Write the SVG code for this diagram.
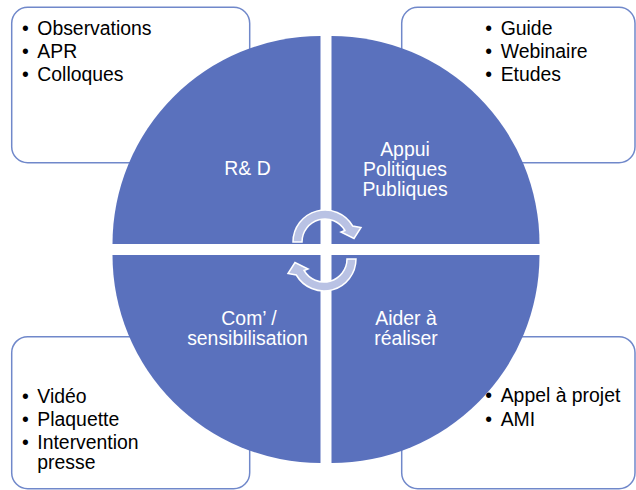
<svg xmlns="http://www.w3.org/2000/svg" width="636" height="490" viewBox="0 0 636 490">
<defs>
<style>
.box{fill:#ffffff;stroke:#7088CA;stroke-width:1.5}
.q{fill:#5A71BD}
.t{font-family:"Liberation Sans",Arial,sans-serif;font-size:19.4px;fill:#000000}
.w{font-family:"Liberation Sans",Arial,sans-serif;font-size:19.4px;fill:#ffffff;text-anchor:middle}
.arr{fill:#B9C2E4;stroke:#ffffff;stroke-width:1.5;stroke-linejoin:miter}
</style>
<path id="arrow" class="arr" d="M293 242 A32 32 0 0 1 352.7 226 L361 227.5 L354 238.5 L341 232 L344.9 230.5 A23 23 0 0 0 302 242 Z"/>
</defs>
<rect width="636" height="490" fill="#ffffff"/>
<g id="box-tl"><rect class="box" x="11.7" y="7.3" width="238" height="155.4" rx="16"/>
<text class="t" x="21.9" y="35">•</text><text class="t" x="37.3" y="35">Observations</text>
<text class="t" x="21.9" y="58">•</text><text class="t" x="37.3" y="58">APR</text>
<text class="t" x="21.9" y="81">•</text><text class="t" x="37.3" y="81">Colloques</text></g>
<g id="box-tr"><rect class="box" x="401.7" y="7.3" width="233.3" height="155.4" rx="16"/>
<text class="t" x="485.3" y="35">•</text><text class="t" x="500.7" y="35">Guide</text>
<text class="t" x="485.3" y="58">•</text><text class="t" x="500.7" y="58">Webinaire</text>
<text class="t" x="485.3" y="81">•</text><text class="t" x="500.7" y="81">Etudes</text></g>
<g id="box-bl"><rect class="box" x="11.7" y="336.7" width="238" height="152" rx="16"/>
<text class="t" x="21.9" y="402.7">•</text><text class="t" x="37.3" y="402.7">Vidéo</text>
<text class="t" x="21.9" y="425.7">•</text><text class="t" x="37.3" y="425.7">Plaquette</text>
<text class="t" x="21.9" y="448.6">•</text><text class="t" x="37.3" y="448.6">Intervention</text>
<text class="t" x="37.3" y="468.8">presse</text></g>
<g id="box-br"><rect class="box" x="401.7" y="336.7" width="233.3" height="152" rx="16"/>
<text class="t" x="485.3" y="402.3">•</text><text class="t" x="500.7" y="402.3">Appel à projet</text>
<text class="t" x="485.3" y="425.7">•</text><text class="t" x="500.7" y="425.7">AMI</text></g>
<g id="q-rd"><path class="q" d="M320.5 244 L112.5 244 A208 208 0 0 1 320.5 36 Z"/>
<text class="w" x="247.5" y="175">R&amp; D</text></g>
<g id="q-appui"><path class="q" d="M331.5 244 L331.5 36 A208 208 0 0 1 539.5 244 Z"/>
<text class="w" x="405" y="156">Appui</text><text class="w" x="405" y="176">Politiques</text><text class="w" x="405" y="196">Publiques</text></g>
<g id="q-com"><path class="q" d="M320.5 255 L320.5 463 A208 208 0 0 1 112.5 255 Z"/>
<text class="w" x="249" y="325">Com’ /</text><text class="w" x="247.5" y="345.2">sensibilisation</text></g>
<g id="q-aider"><path class="q" d="M331.5 255 L539.5 255 A208 208 0 0 1 331.5 463 Z"/>
<text class="w" x="406" y="325">Aider à</text><text class="w" x="406" y="345.2">réaliser</text></g>
<g id="connectors">
<use href="#arrow"/>
<use href="#arrow" transform="rotate(180 324.5 250.5)"/>
</g>
</svg>
